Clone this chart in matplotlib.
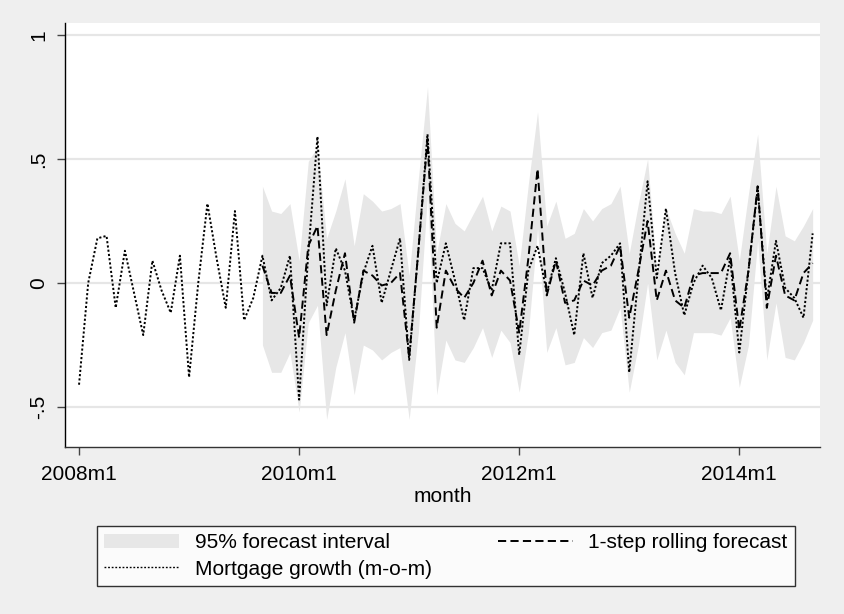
import numpy as np
import matplotlib
matplotlib.use("Agg")
import matplotlib.pyplot as plt
from matplotlib.patches import Patch
from matplotlib.lines import Line2D

plt.rcParams['font.family'] = ['Liberation Sans', 'DejaVu Sans']

# monthly mortgage growth (m-o-m), 2008m1 .. 2014m9
growth = [-0.41, 0.00, 0.18, 0.19, -0.10, 0.13, -0.04, -0.21, 0.09, -0.03,
          -0.12, 0.11, -0.38, 0.00, 0.32, 0.10, -0.10, 0.29, -0.15, -0.06,
          0.11, -0.07, -0.02, 0.11, -0.47, 0.12, 0.59, -0.09, 0.14, 0.05,
          -0.15, 0.04, 0.15, -0.08, 0.05, 0.18, -0.31, 0.13, 0.60, 0.00,
          0.16, 0.01, -0.15, 0.06, 0.06, -0.03, 0.16, 0.16, -0.29, 0.05,
          0.15, -0.04, 0.10, -0.04, -0.21, 0.12, -0.06, 0.08, 0.11, 0.16,
          -0.36, 0.03, 0.41, 0.02, 0.30, 0.04, -0.13, 0.00, 0.07, 0.02,
          -0.11, 0.10, -0.28, 0.05, 0.38, -0.07, 0.17, -0.02, -0.06, -0.14,
          0.20]

# 1-step rolling forecast, 2009m9 .. 2014m9
fc_start = 20
forecast = [0.07, -0.04, -0.04, 0.03, -0.22, 0.15, 0.23, -0.21, -0.03, 0.12,
            -0.16, 0.05, 0.03, -0.01, 0.00, 0.04, -0.30, 0.13, 0.58, -0.18,
            0.05, -0.02, -0.06, 0.00, 0.09, -0.05, 0.05, 0.01, -0.20, 0.10,
            0.46, -0.05, 0.09, -0.08, -0.07, 0.01, -0.01, 0.05, 0.07, 0.15,
            -0.14, 0.05, 0.25, -0.07, 0.05, -0.07, -0.10, 0.03, 0.04, 0.04,
            0.04, 0.12, -0.19, 0.05, 0.39, -0.10, 0.11, -0.05, -0.07, 0.04,
            0.08]

# 95% forecast interval
upper = [0.39, 0.29, 0.28, 0.32, 0.09, 0.49, 0.55, 0.18, 0.29, 0.42,
         0.15, 0.36, 0.33, 0.29, 0.30, 0.32, 0.03, 0.42, 0.79, 0.12,
         0.32, 0.24, 0.21, 0.28, 0.35, 0.21, 0.31, 0.29, 0.07, 0.40,
         0.69, 0.23, 0.33, 0.18, 0.20, 0.30, 0.25, 0.30, 0.32, 0.39,
         0.12, 0.32, 0.50, 0.04, 0.30, 0.20, 0.12, 0.30, 0.29, 0.29,
         0.28, 0.35, 0.09, 0.36, 0.60, 0.12, 0.39, 0.19, 0.17, 0.23,
         0.30]
lower = [-0.25, -0.36, -0.36, -0.28, -0.52, -0.16, -0.09, -0.55, -0.34, -0.20,
         -0.45, -0.25, -0.27, -0.31, -0.28, -0.26, -0.55, -0.20, 0.36, -0.45,
         -0.23, -0.31, -0.32, -0.26, -0.18, -0.30, -0.19, -0.24, -0.44, -0.20,
         0.22, -0.28, -0.18, -0.33, -0.32, -0.22, -0.26, -0.20, -0.19, -0.10,
         -0.44, -0.25, 0.00, -0.31, -0.19, -0.32, -0.37, -0.20, -0.20, -0.20,
         -0.21, -0.14, -0.42, -0.25, 0.17, -0.31, -0.08, -0.30, -0.31, -0.24,
         -0.15]

xtick_pos = [0, 24, 48, 72]
xtick_lab = ["2008m1", "2010m1", "2012m1", "2014m1"]
ytick_pos = [1, 0.5, 0, -0.5]
ytick_lab = ["1", ".5", "0", "-.5"]

t = np.arange(len(growth))
tf = np.arange(fc_start, fc_start + len(forecast))

bg = '#efefef'
fig = plt.figure(figsize=(8.45, 6.14), dpi=100, facecolor=bg)
ax = fig.add_axes([65/845, 1-447/614, 755/845, 424/614])
ax.set_facecolor('white')

for y in ytick_pos:
    ax.axhline(y, color='#e6e6e6', lw=1.6, zorder=0)

ax.fill_between(tf, lower, upper, color='#e7e7e7', lw=0, zorder=1)
ax.plot(tf, forecast, color='black', lw=1.4, ls=(0, (4.2, 2.2)), zorder=3)
ax.plot(t, growth, color='black', lw=1.4, ls=(0, (1.1, 1.1)), zorder=4)

ax.set_xlim(-1.53, 80.8)
ax.set_ylim(-0.661, 1.048)

ax.set_xticks(xtick_pos)
ax.set_xticklabels(xtick_lab, fontsize=15)
ax.set_yticks(ytick_pos)
ax.set_yticklabels(ytick_lab, fontsize=15, rotation=90, va='center')
ax.tick_params(axis='both', length=6, width=1, color='#444444', pad=7)
ax.tick_params(axis='y', pad=6)

for s in ['top', 'right']:
    ax.spines[s].set_visible(False)
ax.spines['left'].set_color('black')
ax.spines['bottom'].set_color('#333333')
ax.spines['left'].set_linewidth(1.0)
ax.spines['bottom'].set_linewidth(1.0)

ax.set_xlabel("month", fontsize=15, labelpad=2)

h_band = Patch(facecolor='#e7e7e7', edgecolor='none')
h_fc = Line2D([], [], color='black', lw=1.4, ls=(0, (4.2, 2.2)))
h_gr = Line2D([], [], color='black', lw=1.0, ls=(0, (1.3, 1.3)))
leg = fig.legend([h_band, h_gr, h_fc],
                 ["95% forecast interval", "Mortgage growth (m-o-m)",
                  "1-step rolling forecast"],
                 ncol=2, loc='center', mode='expand',
                 bbox_to_anchor=(97/845, 1-585/614, 698/845, 58/614),
                 bbox_transform=fig.transFigure,
                 fontsize=15, frameon=True, fancybox=False,
                 edgecolor='black', handlelength=3.6, handletextpad=0.75,
                 labelspacing=0.35, borderpad=0.35, borderaxespad=0)
leg.get_frame().set_linewidth(1.0)

fig.savefig("out.png", dpi=100, facecolor=bg)
